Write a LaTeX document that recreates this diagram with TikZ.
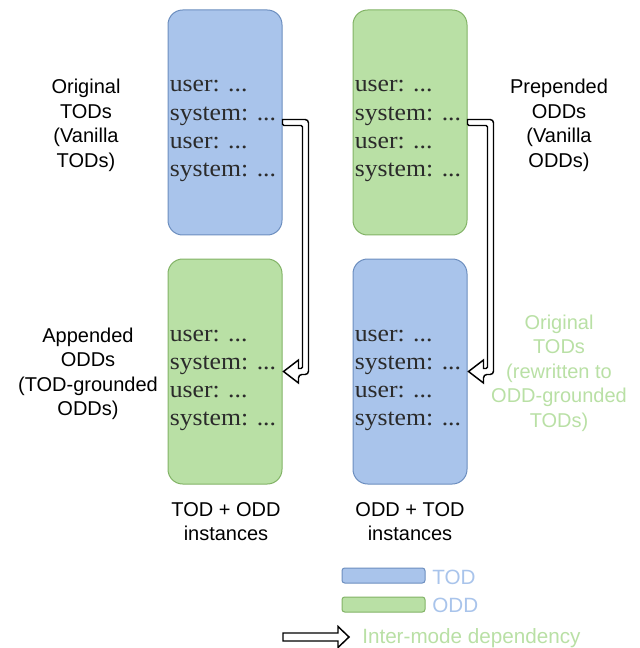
\documentclass[tikz,border=0pt]{standalone}
\usepackage{fontspec}
\setmainfont{Liberation Sans}
\newfontfamily\boxserif[FakeStretch=1.07]{Liberation Serif}
\usetikzlibrary{calc}
\definecolor{bfill}{HTML}{A9C4EB}
\definecolor{bline}{HTML}{6C8EBF}
\definecolor{gfill}{HTML}{B9E0A5}
\definecolor{gline}{HTML}{82B366}
\definecolor{boxtxt}{HTML}{2B2B2B}
\begin{document}
\begin{tikzpicture}[x=0.75pt,y=-0.75pt,
  panel/.style={draw, line width=0.75pt, rounded corners=11pt, minimum width=85.5pt, minimum height=168.75pt, inner sep=0pt},
  bluepanel/.style={panel, fill=bfill, draw=bline},
  greenpanel/.style={panel, fill=gfill, draw=gline},
  ln/.style={anchor=base west, inner sep=0pt, text=boxtxt, font=\boxserif\fontsize{18}{21}\selectfont},
  lbl/.style={align=center, inner sep=0pt, font=\fontsize{15}{18.4}\selectfont},
  dep/.style={draw=black, fill=white, line width=1.1pt},
  legbox/.style={draw, line width=0.75pt, rounded corners=2pt, minimum width=62.25pt, minimum height=11.25pt, inner sep=0pt},
  legtxt/.style={anchor=west, inner sep=0pt, font=\fontsize{15.5}{18}\selectfont}]
\useasboundingbox (0,0) rectangle (639,648);

% panels
\node[bluepanel]  (tl) at (225,122.5) {};
\node[greenpanel] (tr) at (410,122.5) {};
\node[greenpanel] (bl) at (225,371.5) {};
\node[bluepanel]  (br) at (410,371.5) {};

\foreach \b in {tl,tr,bl,br}{
  \foreach \i/\t in {0/user,1/system,2/user,3/system}{
    \node[ln] (\b-\i) at ($(\b.west)+(2,-30.5+28.3*\i)$) {\t: ...};
  }
}

% dependency arrows
\draw[dep] ($(tl.east)+(0,-3)$) [rounded corners=2.5pt] -- ($(tl.east)+(26,-3)$) -- ($(bl.east)+(26,3)$) -- ($(bl.east)+(16,3)$)
  [sharp corners] -- ($(bl.east)+(16,11.5)$) -- ($(bl.east)+(1,0)$) -- ($(bl.east)+(16,-11.5)$) -- ($(bl.east)+(16,-3)$)
  [rounded corners=1pt] -- ($(bl.east)+(20,-3)$) -- ($(tl.east)+(20,3)$) -- ($(tl.east)+(0,3)$) [sharp corners] -- cycle;
\draw[dep] ($(tr.east)+(0,-3)$) [rounded corners=2.5pt] -- ($(tr.east)+(26,-3)$) -- ($(br.east)+(26,3)$) -- ($(br.east)+(16,3)$)
  [sharp corners] -- ($(br.east)+(16,11.5)$) -- ($(br.east)+(1,0)$) -- ($(br.east)+(16,-11.5)$) -- ($(br.east)+(16,-3)$)
  [rounded corners=1pt] -- ($(br.east)+(20,-3)$) -- ($(tr.east)+(20,3)$) -- ($(tr.east)+(0,3)$) [sharp corners] -- cycle;

% side labels
\node[lbl] (l1) at (86,125.5) {Original\\TODs\\(Vanilla\\TODs)};
\node[lbl] (r1) at (559,125.5) {Prepended\\ODDs\\(Vanilla\\ODDs)};
\node[lbl] (l2) at (88,374) {Appended\\ODDs\\(TOD-grounded\\ODDs)};
\node[lbl, text=gfill] (r2) at (559,373) {Original\\TODs\\(rewritten to\\ODD-grounded\\TODs)};
\node[lbl] (c1) at (226,521.5) {TOD + ODD\\instances};
\node[lbl] (c2) at (410,521.5) {ODD + TOD\\instances};

% legend
\node[legbox, fill=bfill, draw=bline] (lgb) at (383.5,575.5) {};
\node[legbox, fill=gfill, draw=gline] (lgg) at (383.5,604.5) {};
\node[legtxt, text=bfill] (lgbt) at (432,577) {TOD};
\node[legtxt, text=bfill] (lggt) at (432,605.5) {ODD};
\coordinate (la) at (283,637);
\coordinate (lb) at (349,637);
\draw[dep] ($(la)+(0,-4)$) -- ($(lb)+(-11,-4)$) -- ($(lb)+(-11,-10.5)$) -- (lb) -- ($(lb)+(-11,10.5)$) -- ($(lb)+(-11,4)$) -- ($(la)+(0,4)$) -- cycle;
\node[legtxt, text=gfill] (lgat) at (362,638) {Inter-mode dependency};
\end{tikzpicture}
\end{document}
